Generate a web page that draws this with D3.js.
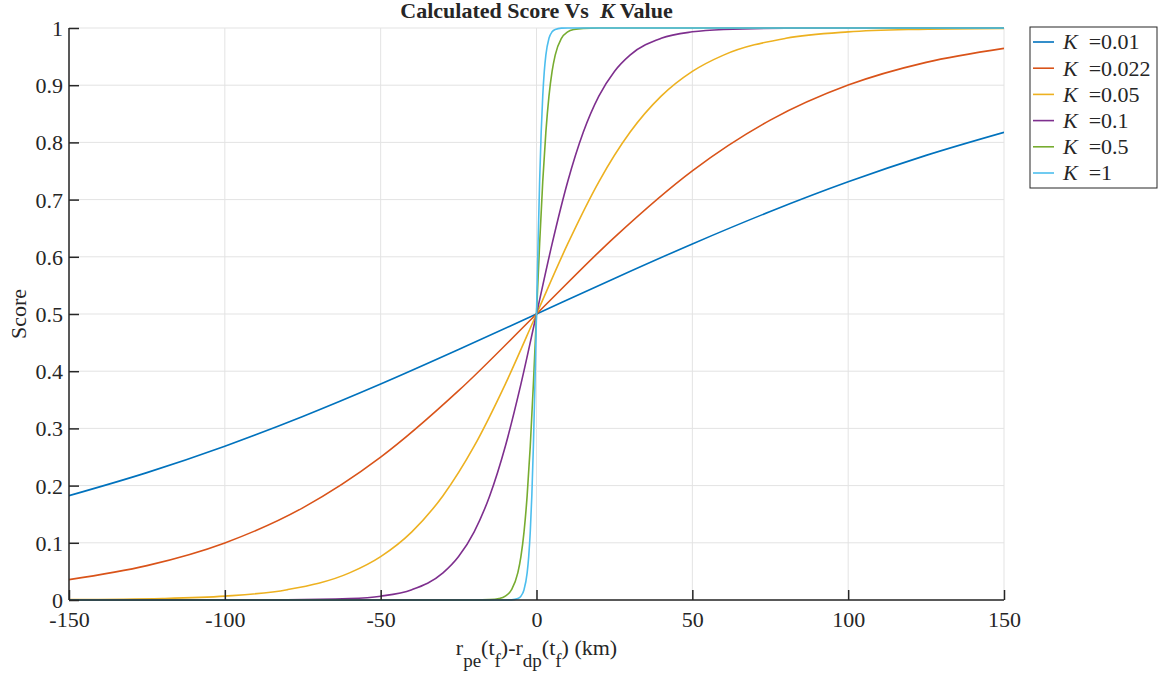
<!DOCTYPE html>
<html>
<head>
<meta charset="utf-8">
<script src="https://cdn.jsdelivr.net/npm/d3@7"></script>
<style>
  html, body { margin: 0; padding: 0; background: #fff; }
  svg { display: block; }
  text { font-family: "Liberation Serif", "Times New Roman", serif; fill: #262626; white-space: pre; }
</style>
</head>
<body>
<svg id="chart" width="1161" height="675"></svg>
<script>
// Score = logistic response vs. range difference, one curve per K
const kLabels = ["0.01", "0.022", "0.05", "0.1", "0.5", "1"];
const colors = ["#0072BD", "#D95319", "#EDB120", "#7E2F8E", "#77AC30", "#4DBEEE"];

const xK001 = [-150,-125,-100,-75,-50,-25,0,25,50,75,100,125,150];
const yK001 = [0.1824,0.2227,0.2689,0.3208,0.3775,0.4378,0.5,0.5622,0.6225,0.6792,0.7311,0.7773,0.8176];

const xK0022 = [-150,-125,-100,-75,-50,-25,0,25,50,75,100,125,150];
const yK0022 = [0.0356,0.0601,0.0998,0.1611,0.2497,0.3659,0.5,0.6341,0.7503,0.8389,0.9002,0.9399,0.9644];

const xK005 = [-150,-120,-100,-80,-60,-50,-40,-30,-20,-10,0,10,20,30,40,50,60,80,100,120,150];
const yK005 = [0.0006,0.0025,0.0067,0.0180,0.0474,0.0759,0.1192,0.1824,0.2689,0.3775,0.5,0.6225,0.7311,0.8176,0.8808,0.9241,0.9526,0.9820,0.9933,0.9975,0.9994];

const xK01 = [-150,-100,-80,-60,-50,-40,-30,-25,-20,-15,-10,-5,0,5,10,15,20,25,30,40,50,60,80,100,150];
const yK01 = [0,0.00005,0.0003,0.0025,0.0067,0.0180,0.0474,0.0759,0.1192,0.1824,0.2689,0.3775,0.5,0.6225,0.7311,0.8176,0.8808,0.9241,0.9526,0.9820,0.9933,0.9975,0.9997,0.99995,1];

const xK05 = [-150,-30,-20,-15,-12,-10,-8,-6,-5,-4,-3,-2,-1,0,1,2,3,4,5,6,8,10,12,15,20,30,150];
const yK05 = [0,0,0.00005,0.0006,0.0025,0.0067,0.0180,0.0474,0.0759,0.1192,0.1824,0.2689,0.3775,0.5,0.6225,0.7311,0.8176,0.8808,0.9241,0.9526,0.9820,0.9933,0.9975,0.9994,0.99995,1,1];

const xK1 = [-150,-15,-10,-8,-6,-5,-4,-3,-2.5,-2,-1.5,-1,-0.5,0,0.5,1,1.5,2,2.5,3,4,5,6,8,10,15,150];
const yK1 = [0,0,0.00005,0.0003,0.0025,0.0067,0.0180,0.0474,0.0759,0.1192,0.1824,0.2689,0.3775,0.5,0.6225,0.7311,0.8176,0.8808,0.9241,0.9526,0.9820,0.9933,0.9975,0.9997,0.99995,1,1];

const xTicks = [-150,-100,-50,0,50,100,150];
const yTicks = [0,0.1,0.2,0.3,0.4,0.5,0.6,0.7,0.8,0.9,1];

const seriesX = [xK001, xK0022, xK005, xK01, xK05, xK1];
const seriesY = [yK001, yK0022, yK005, yK01, yK05, yK1];

const svg = d3.select("#chart");
const m = { left: 69, right: 1004, top: 28, bottom: 600 };
const axisColor = "#262626";
const gridColor = "#e3e3e3";
const fontSize = "22px";

const x = d3.scaleLinear().domain([-150, 150]).range([m.left, m.right]);
const y = d3.scaleLinear().domain([0, 1]).range([m.bottom, m.top]);

// grid
const grid = svg.append("g");
grid.selectAll(".gx").data(xTicks).join("line")
  .attr("x1", d => x(d)).attr("x2", d => x(d))
  .attr("y1", m.top).attr("y2", m.bottom)
  .attr("stroke", gridColor).attr("stroke-width", 1);
grid.selectAll(".gy").data(yTicks).join("line")
  .attr("x1", m.left).attr("x2", m.right)
  .attr("y1", d => y(d)).attr("y2", d => y(d))
  .attr("stroke", gridColor).attr("stroke-width", 1);

// curves
svg.append("defs").append("clipPath").attr("id", "plotClip")
  .append("rect").attr("x", m.left).attr("y", m.top - 1)
  .attr("width", m.right - m.left).attr("height", m.bottom - m.top + 2);

const line = d3.line().x(d => x(d[0])).y(d => y(d[1])).curve(d3.curveMonotoneX);
const curves = svg.append("g").attr("clip-path", "url(#plotClip)");
seriesX.forEach((xs, i) => {
  const pts = xs.map((v, j) => [v, seriesY[i][j]]);
  curves.append("path").datum(pts)
    .attr("d", line).attr("fill", "none")
    .attr("stroke", colors[i]).attr("stroke-width", 1.6);
});

// axes (ticks inward)
const xAxis = d3.axisBottom(x).tickValues(xTicks).tickSize(-10).tickPadding(11)
  .tickFormat(d => String(d));
const yAxis = d3.axisLeft(y).tickValues(yTicks).tickSize(-10).tickPadding(6)
  .tickFormat(d => String(d));

const gx = svg.append("g").attr("transform", `translate(0,${m.bottom})`).call(xAxis);
const gy = svg.append("g").attr("transform", `translate(${m.left},0)`).call(yAxis);
[gx, gy].forEach(g => {
  g.attr("font-family", null).attr("font-size", null);
  g.select(".domain").attr("stroke", axisColor).attr("stroke-width", 1.5);
  g.selectAll(".tick line").attr("stroke", axisColor).attr("stroke-width", 1.5);
  g.selectAll(".tick text").attr("fill", axisColor).style("font-size", fontSize);
});
gx.select(".domain").attr("d", `M${m.left},0H${m.right}`);
gy.select(".domain").attr("d", `M0,${m.bottom}V${m.top}`);
gy.selectAll(".tick text").attr("dy", "0.34em");

// title
const title = svg.append("text").attr("x", (m.left + m.right) / 2).attr("y", 18)
  .attr("text-anchor", "middle").style("font-size", fontSize).style("font-weight", "bold");
title.append("tspan").text("Calculated Score Vs  ");
title.append("tspan").style("font-style", "italic").text("K");
title.append("tspan").text(" Value");

// axis labels
svg.append("text").attr("transform", `translate(26,${(m.top + m.bottom) / 2}) rotate(-90)`)
  .attr("text-anchor", "middle").style("font-size", fontSize).text("Score");

const xl = svg.append("text").attr("x", (m.left + m.right) / 2).attr("y", 655)
  .attr("text-anchor", "middle").style("font-size", fontSize);
const sub = (t) => xl.append("tspan").attr("dy", 12).style("font-size", "19px").text(t);
const main = (t, first) => xl.append("tspan").attr("dy", first ? 0 : -12).text(t);
main("r", true); sub("pe"); main("(t"); sub("f"); main(")-r"); sub("dp"); main("(t"); sub("f"); main(") (km)");

// legend
const lg = svg.append("g").attr("transform", "translate(1030,27)");
lg.append("rect").attr("x", 0).attr("y", 0).attr("width", 127).attr("height", 161)
  .attr("fill", "#fff").attr("stroke", axisColor).attr("stroke-width", 1);
kLabels.forEach((k, i) => {
  const cy = 15 + i * 26.2;
  lg.append("line").attr("x1", 3).attr("x2", 24).attr("y1", cy).attr("y2", cy)
    .attr("stroke", colors[i]).attr("stroke-width", 1.6);
  const t = lg.append("text").attr("x", 33).attr("y", cy).attr("dy", "0.34em")
    .style("font-size", fontSize);
  t.append("tspan").style("font-style", "italic").text("K");
  t.append("tspan").text("  =" + k);
});
</script>
</body>
</html>
